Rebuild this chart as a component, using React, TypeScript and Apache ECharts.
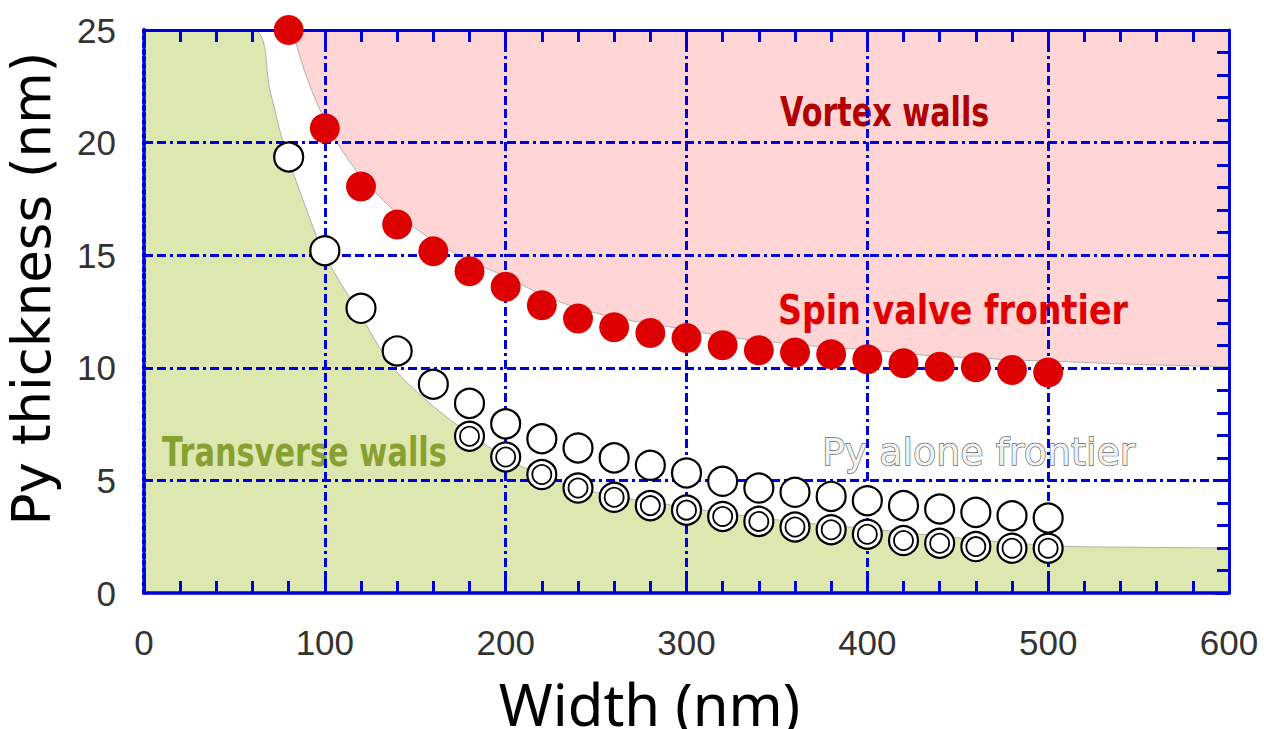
import React, { useEffect, useRef } from "react";
import * as echarts from "echarts";

// Widths (nm) of the measured points
const widthsAll = [80, 100, 120, 140, 160, 180, 200, 220, 240, 260, 280, 300, 320, 340, 360, 380, 400, 420, 440, 460, 480, 500];
const widthsLower = [180, 200, 220, 240, 260, 280, 300, 320, 340, 360, 380, 400, 420, 440, 460, 480, 500];

// Spin valve frontier (red dots)
const spinValve = [25.0, 20.64, 18.05, 16.36, 15.17, 14.29, 13.6, 12.78, 12.19, 11.8, 11.55, 11.32, 11.0, 10.78, 10.68, 10.6, 10.38, 10.2, 10.05, 10.02, 9.9, 9.79];
// Py alone frontier (open circles)
const pyAlone = [19.36, 15.2, 12.64, 10.75, 9.27, 8.42, 7.51, 6.85, 6.44, 6.0, 5.67, 5.33, 4.96, 4.66, 4.47, 4.29, 4.1, 3.88, 3.73, 3.58, 3.43, 3.33];
// Lower frontier (double circles)
const pyLower = [6.96, 6.04, 5.26, 4.66, 4.25, 3.88, 3.68, 3.4, 3.18, 2.93, 2.81, 2.61, 2.33, 2.21, 2.06, 1.99, 1.99];

// Region boundaries
const transverseX = [0, 60, 70, 77, 90, 100, 120, 136, 150, 170, 195, 212, 243, 300, 350, 400, 450, 508, 550, 600];
const transverseY = [25, 25, 22.2, 20, 17.0, 15.0, 12.3, 10.2, 9.0, 7.65, 6.25, 5.5, 4.6, 3.8, 3.25, 2.85, 2.45, 2.08, 2.03, 2.0];
const vortexX = [82, 90, 100, 110, 120, 140, 160, 180, 200, 220, 240, 260, 280, 300, 320, 340, 360, 380, 400, 420, 440, 460, 480, 500, 550, 600];
const vortexY = [25, 22.9, 21.0, 19.6, 18.5, 16.85, 15.65, 14.75, 14.05, 13.25, 12.65, 12.25, 11.95, 11.7, 11.4, 11.2, 11.05, 10.9, 10.8, 10.65, 10.5, 10.45, 10.35, 10.3, 10.15, 10.05];

const xTicks = { min: 0, max: 600, interval: 100 };
const yTicks = { min: 0, max: 25, interval: 5 };

const BLUE = "#0000dd";
const gridDash = [9, 4, 9, 4, 3, 4];

const zip = (xs: number[], ys: number[]) => xs.map((x, i) => [x, ys[i]]);

export default function App() {
  const ref = useRef<HTMLDivElement>(null);
  useEffect(() => {
    document.body.style.margin = "0";
    if (!ref.current) return;
    const chart = echarts.init(ref.current, undefined, { renderer: "svg" });
    const labelStyle = { fontFamily: "Liberation Sans", fontSize: 35, color: "#333" };
    chart.setOption({
      animation: false,
      backgroundColor: "#ffffff",
      grid: { left: 144, right: 35, top: 30, bottom: 136, containLabel: false, outerBoundsMode: "none" },
      xAxis: [
        {
          type: "value",
          position: "bottom",
          ...xTicks,
          z: 3,
          axisLine: { onZero: false, lineStyle: { color: BLUE, width: 3.5 } },
          axisTick: { inside: true, length: 20, lineStyle: { color: BLUE, width: 3 } },
          minorTick: { show: true, splitNumber: 5, length: 12, lineStyle: { color: BLUE, width: 3 } },
          splitLine: { show: true, showMinLine: false, showMaxLine: false, lineStyle: { color: BLUE, width: 3, type: gridDash } },
          axisLabel: { ...labelStyle, margin: 32 },
          name: "Width (nm)",
          nameLocation: "middle",
          nameGap: 81,
          nameTextStyle: { fontFamily: "Noto Sans", fontSize: 58, color: "#000", padding: [0, 74, 0, 0] },
        },
        {
          type: "value",
          position: "top",
          ...xTicks,
          z: 3,
          axisLine: { onZero: false, lineStyle: { color: BLUE, width: 3 } },
          axisTick: { inside: true, length: 16, lineStyle: { color: BLUE, width: 3 } },
          minorTick: { show: true, splitNumber: 5, length: 12, lineStyle: { color: BLUE, width: 3 } },
          splitLine: { show: false },
          axisLabel: { show: false },
        },
      ],
      yAxis: [
        {
          type: "value",
          position: "left",
          ...yTicks,
          z: 3,
          axisLine: { show: true, onZero: false, lineStyle: { color: BLUE, width: 4, type: [4, 3] } },
          axisTick: { show: false },
          splitLine: { show: true, showMinLine: false, showMaxLine: false, lineStyle: { color: BLUE, width: 3, type: gridDash } },
          axisLabel: { ...labelStyle, margin: 28 },
          name: "Py thickness (nm)",
          nameLocation: "middle",
          nameGap: 86,
          nameTextStyle: { fontFamily: "DejaVu Sans", fontSize: 53, color: "#000", padding: [0, 0, 0, 46] },
        },
        {
          type: "value",
          position: "right",
          ...yTicks,
          z: 3,
          axisLine: { show: true, onZero: false, lineStyle: { color: BLUE, width: 3 } },
          axisTick: { show: true, inside: true, length: 14, lineStyle: { color: BLUE, width: 3 } },
          minorTick: { show: true, splitNumber: 5, length: 12, lineStyle: { color: BLUE, width: 3 } },
          splitLine: { show: false },
          axisLabel: { show: false },
        },
      ],
      graphic: [
        {
          type: "text", x: 780, y: 112, scaleX: 0.755, z: 2,
          style: { text: "Vortex walls", fill: "#b00000", fontFamily: "DejaVu Sans", fontWeight: "bold", fontSize: 40, align: "left", verticalAlign: "middle" },
        },
        {
          type: "text", x: 778, y: 310, scaleX: 0.833, z: 2,
          style: { text: "Spin valve frontier", fill: "#e00000", fontFamily: "DejaVu Sans", fontWeight: "bold", fontSize: 40, align: "left", verticalAlign: "middle" },
        },
        {
          type: "text", x: 162, y: 452, scaleX: 0.76, z: 2,
          style: { text: "Transverse walls", fill: "#88a030", fontFamily: "DejaVu Sans", fontWeight: "bold", fontSize: 40, align: "left", verticalAlign: "middle" },
        },
        {
          type: "text", x: 822, y: 452, scaleX: 1.025, z: 2,
          style: { text: "Py alone frontier", fill: "#f2f2f2", stroke: "#666666", lineWidth: 1.3, fontFamily: "DejaVu Sans", fontSize: 37, align: "left", verticalAlign: "middle" },
        },
      ],
      series: [
        {
          type: "line",
          z: 1,
          data: zip(transverseX, transverseY),
          smooth: 0.35,
          symbol: "none",
          lineStyle: { color: "#b0b0b0", width: 1 },
          areaStyle: { color: "#dde7b0", opacity: 1, origin: "start" },
        },
        {
          type: "line",
          z: 1,
          data: zip(vortexX, vortexY),
          smooth: 0.35,
          symbol: "none",
          lineStyle: { color: "#b0b0b0", width: 1 },
          areaStyle: { color: "#ffd5d5", opacity: 1, origin: "end" },
        },
        {
          type: "scatter",
          z: 5,
          clip: false,
          data: zip(widthsAll, spinValve),
          symbolSize: 30,
          itemStyle: { color: "#dd0000", opacity: 1 },
        },
        {
          type: "scatter",
          z: 5,
          clip: false,
          data: zip(widthsAll, pyAlone),
          symbolSize: 29,
          itemStyle: { color: "#ffffff", borderColor: "#000000", borderWidth: 2.2, opacity: 1 },
        },
        {
          type: "scatter",
          z: 5,
          clip: false,
          data: zip(widthsLower, pyLower),
          symbolSize: 29,
          itemStyle: { color: "#ffffff", borderColor: "#000000", borderWidth: 2.2, opacity: 1 },
        },
        {
          type: "scatter",
          z: 6,
          clip: false,
          data: zip(widthsLower, pyLower),
          symbolSize: 19,
          itemStyle: { color: "#ffffff", borderColor: "#000000", borderWidth: 1.8, opacity: 1 },
        },
      ],
    });
    return () => chart.dispose();
  }, []);
  return <div ref={ref} style={{ width: 1264, height: 729 }} />;
}
